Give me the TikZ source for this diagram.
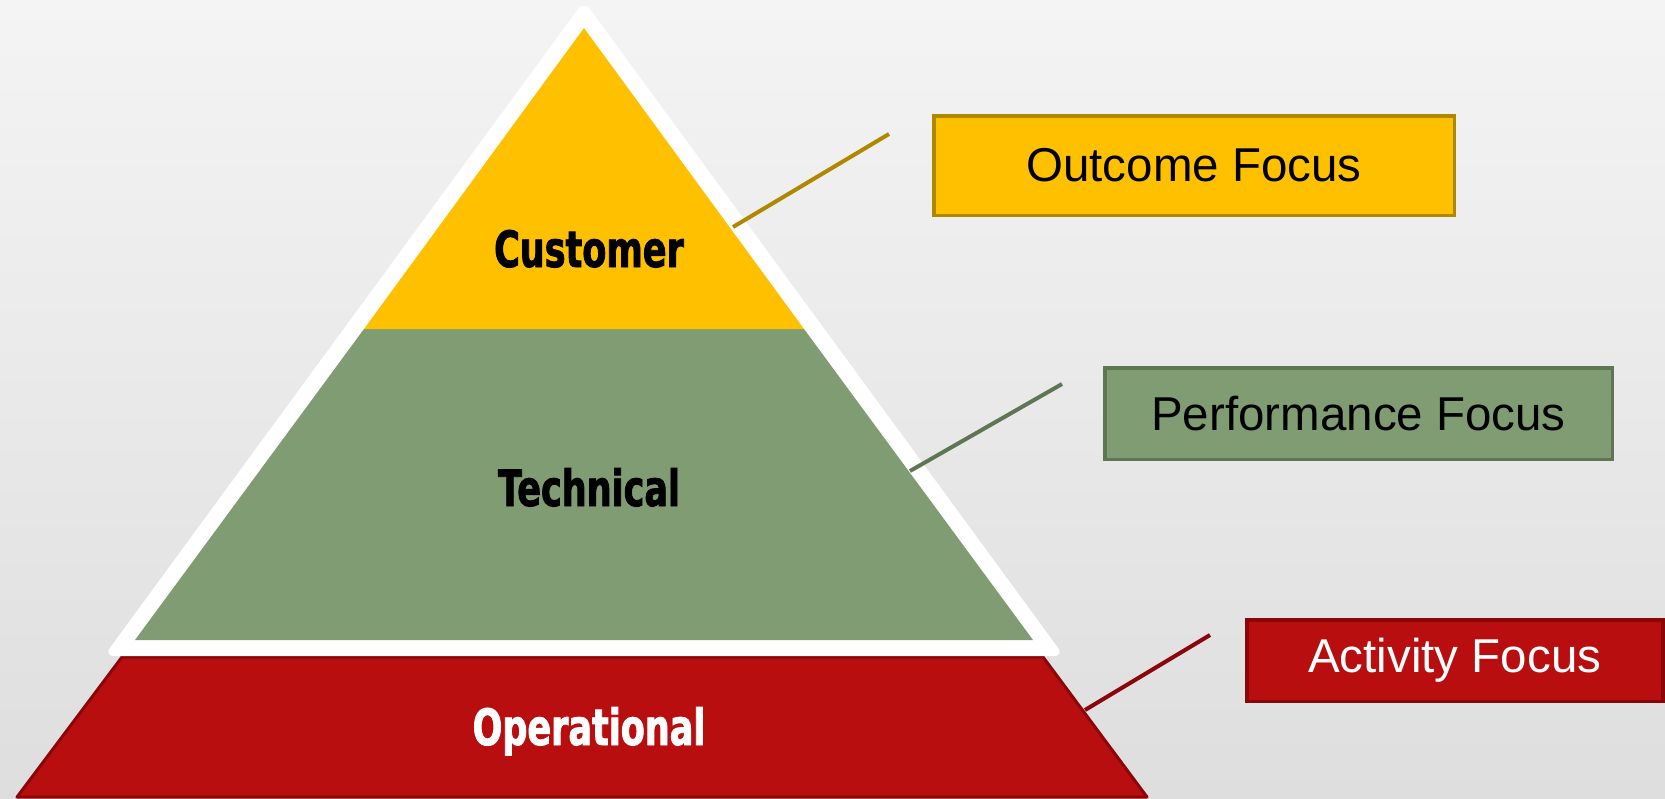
\documentclass[tikz,border=0pt]{standalone}
\usepackage{fontspec}
\setmainfont{Liberation Sans}
\newfontfamily\labelfont[FakeStretch=0.7,FakeBold=1.6]{DejaVu Sans Bold}
\begin{document}
\definecolor{bgtop}{HTML}{F4F4F4}
\definecolor{bgbot}{HTML}{DEDEDE}
\definecolor{tierYellow}{HTML}{FFC000}
\definecolor{tierYellowDark}{HTML}{B08800}
\definecolor{tierGreen}{HTML}{809C72}
\definecolor{tierGreenDark}{HTML}{5E7752}
\definecolor{tierRed}{HTML}{B80E0F}
\definecolor{tierRedDark}{HTML}{8A0608}
\begin{tikzpicture}[x=1pt,y=-1pt,
  tierlabel/.style={font=\labelfont\fontsize{50}{52}\selectfont, anchor=base, inner sep=0pt},
  focusbox/.style={draw, line width=3.5pt, inner sep=0pt, anchor=north west},
  focustext/.style={font=\fontsize{47.5}{50}\selectfont},
  leader/.style={line width=4pt}
]
\useasboundingbox (0,0) rectangle (1665,798);
% backdrop
\shade[top color=bgtop, bottom color=bgbot] (0,0) rectangle (1665,798);

% base tier
\filldraw[fill=tierRed, draw=tierRedDark, line width=3pt, line join=round]
  (122,657) -- (1043,657) -- (1147,797) -- (17,797) -- cycle;

% white frame of the upper pyramid
\fill[white, rounded corners=10pt] (584,1) -- (1064,656) -- (104,656) -- cycle;

% middle and top tiers
\fill[tierGreen] (364,329) -- (804,329) -- (1033,640) -- (135,640) -- cycle;
\fill[tierYellow] (584,28) -- (804,329) -- (364,329) -- cycle;

% tier labels
\node[tierlabel, text=black] (customer) at (589,267) {Customer};
\node[tierlabel, text=black] (technical) at (589,506) {Technical};
\node[tierlabel, text=white] (operational) at (589,745) {Operational};

% focus boxes
\node[focusbox, fill=tierYellow, draw=tierYellowDark, minimum width=520.5pt, minimum height=99.5pt] (outcome) at (932,114) {};
\node[focustext, text=black] at (outcome.center) {Outcome Focus};
\node[focusbox, fill=tierGreen, draw=tierGreenDark, minimum width=507.5pt, minimum height=91.5pt] (performance) at (1103,366) {};
\node[focustext, text=black] at (performance.center) {Performance Focus};
\node[focusbox, fill=tierRed, draw=tierRedDark, minimum width=416pt, minimum height=81.5pt] (activity) at (1245,618) {};
\node[focustext, text=white] at (activity.center) {Activity Focus};

% leader lines
\coordinate (c1) at (733,227);
\coordinate (c1end) at (889,134);
\coordinate (c2) at (910,471);
\coordinate (c2end) at (1062,384);
\coordinate (c3) at (1085,710);
\coordinate (c3end) at (1210,635);
\draw[leader, tierYellowDark] (c1) -- (c1end);
\draw[leader, tierGreenDark] (c2) -- (c2end);
\draw[leader, tierRedDark] (c3) -- (c3end);
\end{tikzpicture}
\end{document}
